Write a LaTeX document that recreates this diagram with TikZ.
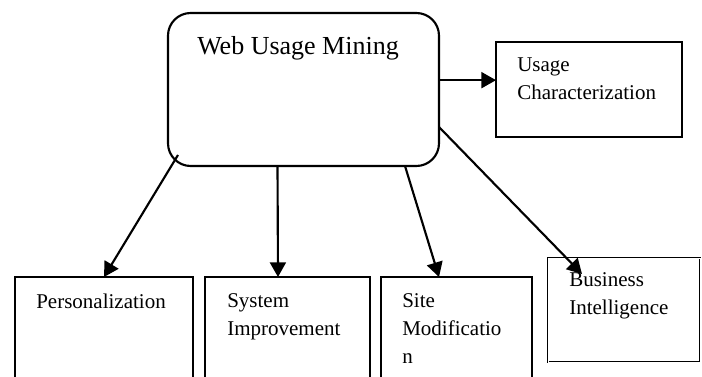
\documentclass[tikz,border=0pt]{standalone}
\usepackage{fontspec}
\setmainfont{Liberation Serif}
\usetikzlibrary{arrows.meta,calc}
\tikzset{
  box/.style={draw, line width=1.6pt, anchor=north west, outer sep=0pt, inner sep=0pt},
  txt/.style={anchor=base west, align=left, inner sep=0pt, font=\fontsize{15.75}{21}\selectfont},
  arr/.style={line width=1.6pt, -{Triangle[length=11pt,width=12pt]}}
}
\begin{document}
\begin{tikzpicture}[x=0.75pt, y=-0.75pt]
  \useasboundingbox (0,0) rectangle (702,377);
  \clip (0,0) rectangle (702,377);
  \node[box, rounded corners=17pt, minimum width=203.25pt, minimum height=114.75pt] (web) at (168,13) {};
  \node[box, minimum width=139.5pt, minimum height=71.25pt] (usage) at (496,42) {};
  \node[box, minimum width=133.5pt, minimum height=88.5pt] (pers) at (15,277) {};
  \node[box, minimum width=123.75pt, minimum height=88.5pt] (sysimp) at (205,277) {};
  \node[box, minimum width=113.25pt, minimum height=88.5pt] (sitemod) at (381,277) {};
  \node[box, line width=0.8pt, double, double distance=0.5pt, minimum width=114pt, minimum height=78pt] (busint) at (548,258) {};

  \node[txt, font=\fontsize{19.5}{23}\selectfont] (web-t) at ($(web.north west)+(29,42)$) {Web Usage Mining};
  \node[txt] (usage-t) at ($(usage.north west)+(21,58)$) {Usage\\Characterization};
  \node[txt] (pers-t) at ($(pers.north west)+(21,31)$) {Personalization};
  \node[txt] (sysimp-t) at ($(sysimp.north west)+(22,58)$) {System\\Improvement};
  \node[txt] (sitemod-t) at ($(sitemod.north west)+(21,86)$) {Site\\Modificatio\\n};
  \node[txt] (busint-t) at ($(busint.north west)+(21,57)$) {Business\\Intelligence};

  \draw[arr] ([yshift=7pt]web.east) -- ([yshift=7pt]usage.west);
  \draw[arr] ($(web.south west)+(10,-11)$) -- (pers.north);
  \draw[arr] ($(web.south)+(-26,0)$) -- ($(sysimp.north west)+(73,0)$);
  \draw[arr] ($(web.south east)+(-34,0)$) -- ($(sitemod.north west)+(58,0)$);
  \draw[arr] ($(web.east)+(0,37.5)$) -- ($(busint.north west)+(34,16)$);
\end{tikzpicture}
\end{document}
